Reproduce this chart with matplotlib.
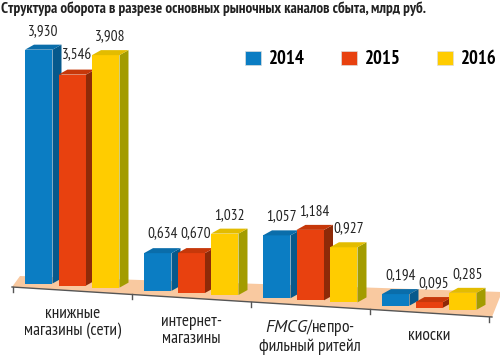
import matplotlib
matplotlib.use("Agg")
import matplotlib.pyplot as plt
from matplotlib.patches import Polygon, Patch

plt.rcParams['font.family'] = ['PT Sans Narrow', 'DejaVu Sans']
plt.rcParams['mathtext.fontset'] = 'custom'
plt.rcParams['mathtext.it'] = 'PT Sans:italic'
plt.rcParams['mathtext.rm'] = 'PT Sans Narrow'

title = "Структура оборота в разрезе основных рыночных каналов сбыта, млрд руб."
categories = ["книжные\nмагазины (сети)", "интернет-\nмагазины",
              "$\\mathit{FMCG}$/непро-\nфильный ритейл", "киоски"]
years = ["2014", "2015", "2016"]
v2014 = [3.930, 0.634, 1.057, 0.194]
v2015 = [3.546, 0.670, 1.184, 0.095]
v2016 = [3.908, 1.032, 0.927, 0.285]
series = [v2014, v2015, v2016]

front = ['#0B7DC3', '#E8410F', '#FFCC00']
side = ['#06598C', '#8E2A08', '#A39C00']
top = ['#0A6DAA', '#C6380A', '#E3BC00']

W, H = 500, 356
fig = plt.figure(figsize=(W / 100, H / 100), dpi=100)
ax = fig.add_axes([0, 0, 1, 1])
# one group = 119 px, one value unit = 59.5 px
ax.set_xlim(-72.25 / 119, (W - 72.25) / 119)
ax.set_ylim(-(H - 283.5) / 59.5, 283.5 / 59.5)
ax.axis('off')

step, w = 0.2815, 0.231
dx, dy = 9 / 119, 5 / 59.5
tilt = 0.124


def px2x(px):
    return (px - 72.25) / 119


def py2y(py):
    return -(py - 283.5) / 59.5


def front_edge(px):
    return 287 + 0.0625 * (px - 12)


# floor
floor = [(px2x(12), py2y(front_edge(12))), (px2x(492), py2y(front_edge(492))),
         (px2x(502), py2y(292)), (px2x(20), py2y(276))]
ax.add_patch(Polygon(floor, closed=True, fc='#F9C9A0', ec='none', zorder=1))
ax.plot([px2x(12), px2x(492)], [py2y(front_edge(12)), py2y(front_edge(492))],
        color='#555555', lw=1, zorder=2)
for g in range(len(categories) + 1):
    tx = g - 0.5
    ty = py2y(front_edge(72.25 + 119 * tx))
    ax.plot([tx, tx], [ty, ty - 5 / 59.5], color='#555555', lw=1, zorder=2)

z = 3
for g in range(len(categories)):
    for k, vals in enumerate(series):
        v = vals[g]
        xc = g + (k - 1) * step
        b = -tilt * (xc + step)
        xl, xr = xc - w / 2, xc + w / 2
        ax.bar(xc, v, w, bottom=b, color=front[k], zorder=z)
        ax.add_patch(Polygon([(xr, b), (xr + dx, b + dy), (xr + dx, b + v + dy), (xr, b + v)],
                             closed=True, fc=side[k], ec='none', zorder=z))
        ax.add_patch(Polygon([(xl, b + v), (xl + dx, b + v + dy), (xr + dx, b + v + dy), (xr, b + v)],
                             closed=True, fc=top[k], ec='none', zorder=z))
        ax.annotate(f"{v:.3f}".replace('.', ','), (xc + dx / 2, b + v + dy),
                    xytext=(0, 5), textcoords='offset points', ha='center', va='bottom',
                    fontsize=11, color='#222222', zorder=20)
        z += 1
    ly = min(front_edge(72.25 + 119 * g) + 32, 336)
    ax.text(g, py2y(ly), categories[g], ha='center', va='center', fontsize=12.5,
            color='#222222', linespacing=1.1)

fig.text(0.002, 1 - 9 / H, title, ha='left', va='center', fontsize=11,
         fontweight='bold', color='#222222')

handles = [Patch(fc=front[k], ec='#dddddd', lw=0.5) for k in range(3)]
ax.legend(handles, years, ncol=3, loc='center left', bbox_to_anchor=(245 / W, 1 - 59.5 / H),
          frameon=False, handlelength=0.85, handleheight=0.85, handletextpad=0.45,
          columnspacing=1.9, borderpad=0, borderaxespad=0,
          prop={'size': 13.5, 'weight': 'bold'})

fig.savefig("out.png", dpi=100)
